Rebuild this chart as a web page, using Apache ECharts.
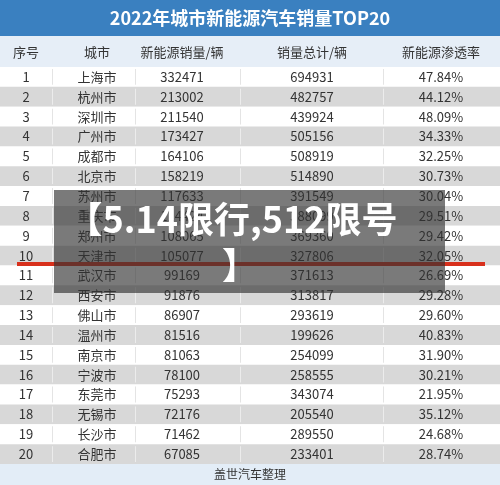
<!DOCTYPE html>
<html><head><meta charset="utf-8">
<script src="https://cdn.jsdelivr.net/npm/echarts@6/dist/echarts.min.js"></script>
<style>html,body{margin:0;padding:0;background:#fff}#c{width:500px;height:485px}</style>
</head><body><div id="c"></div>
<script>
const headers = ['序号','城市','新能源销量/辆','销量总计/辆','新能源渗透率'];
const cities = ['上海市','杭州市','深圳市','广州市','成都市','北京市','苏州市','重庆市','郑州市','天津市','武汉市','西安市','佛山市','温州市','南京市','宁波市','东莞市','无锡市','长沙市','合肥市'];
const nevSales = [332471,213002,211540,173427,164106,158219,117633,114424,108065,105077,99169,91876,86907,81516,81063,78100,75293,72176,71462,67085];
const totalSales = [694931,482757,439924,505156,508919,514890,391549,388099,369360,327806,371613,313817,293619,199626,254099,258555,343074,205540,289550,233401];
const penetration = ['47.84%','44.12%','48.09%','34.33%','32.25%','30.73%','30.04%','29.51%','29.42%','32.05%','26.69%','29.28%','29.60%','40.83%','31.90%','30.21%','21.95%','35.12%','24.68%','28.74%'];
const ranks = cities.map((_, i) => String(i + 1));

const colX = [26, 97, 182, 312, 441];
const seps = [52, 135, 240, 383];
const F = '"Noto Sans CJK SC", sans-serif';
const chart = echarts.init(document.getElementById('c'));
chart.setOption({
  animation: false,
  grid: {left: 0, right: 0, top: 67, bottom: 21},
  xAxis: {type: 'value', min: 0, max: 500, show: false},
  yAxis: {type: 'category', inverse: true, data: ranks, show: false},
  series: [{
    type: 'custom',
    data: ranks.map((r, i) => [0, i]),
    renderItem: function (params, api) {
      const i = api.value(1);
      const p = api.coord([0, i]);
      const h = api.size([0, 1])[1];
      const top = p[1] - h / 2;
      const ch = [{type: 'rect', shape: {x: 0, y: top, width: 500, height: h},
        style: {fill: i % 2 ? '#d8d8d8' : '#ffffff'}}];
      seps.forEach(x => ch.push({type: 'rect', shape: {x: x, y: top + 2, width: 1, height: h - 4}, style: {fill: i % 2 ? '#ececec' : '#e4e4e4'}}));
      const vals = [ranks[i], cities[i], String(nevSales[i]), String(totalSales[i]), penetration[i]];
      vals.forEach((t, k) => ch.push({type: 'text', x: colX[k], y: p[1],
        style: {text: t, fill: '#333333', font: '13px ' + F, align: 'center', verticalAlign: 'middle'}}));
      return {type: 'group', children: ch};
    }
  }],
  graphic: [
    {type: 'rect', shape: {x: 0, y: 0, width: 500, height: 36}, style: {fill: '#3a80c0'}},
    {type: 'text', x: 250, y: 18, style: {text: '2022年城市新能源汽车销量TOP20', fill: '#fff', font: 'bold 18px ' + F, align: 'center', verticalAlign: 'middle'}},
    {type: 'rect', shape: {x: 0, y: 36, width: 500, height: 31}, style: {fill: '#e6eef7'}},
    ...headers.map((t, k) => ({type: 'text', x: colX[k], y: 52, style: {text: t, fill: '#333333', font: '13px ' + F, align: 'center', verticalAlign: 'middle'}})),
    {type: 'rect', shape: {x: 0, y: 464, width: 500, height: 21}, style: {fill: '#e3edf7'}},
    {type: 'text', x: 250, y: 474, style: {text: '盖世汽车整理', fill: '#333333', font: '12px ' + F, align: 'center', verticalAlign: 'middle'}},
    {type: 'rect', z: 50, shape: {x: 17, y: 262, width: 468, height: 4}, style: {fill: '#d8301c'}},
    {type: 'rect', z: 60, shape: {x: 54, y: 190, width: 391, height: 103}, style: {fill: 'rgba(50,50,50,0.65)'}},
    {type: 'text', z: 70, x: 232, y: 219, style: {text: '【5.14限行,512限号', fill: '#fff', font: 'bold 36px ' + F, align: 'center', verticalAlign: 'middle'}},
    {type: 'text', z: 70, x: 240, y: 265, style: {text: '】', fill: '#fff', font: 'bold 36px ' + F, align: 'center', verticalAlign: 'middle'}}
  ]
});
</script></body></html>
